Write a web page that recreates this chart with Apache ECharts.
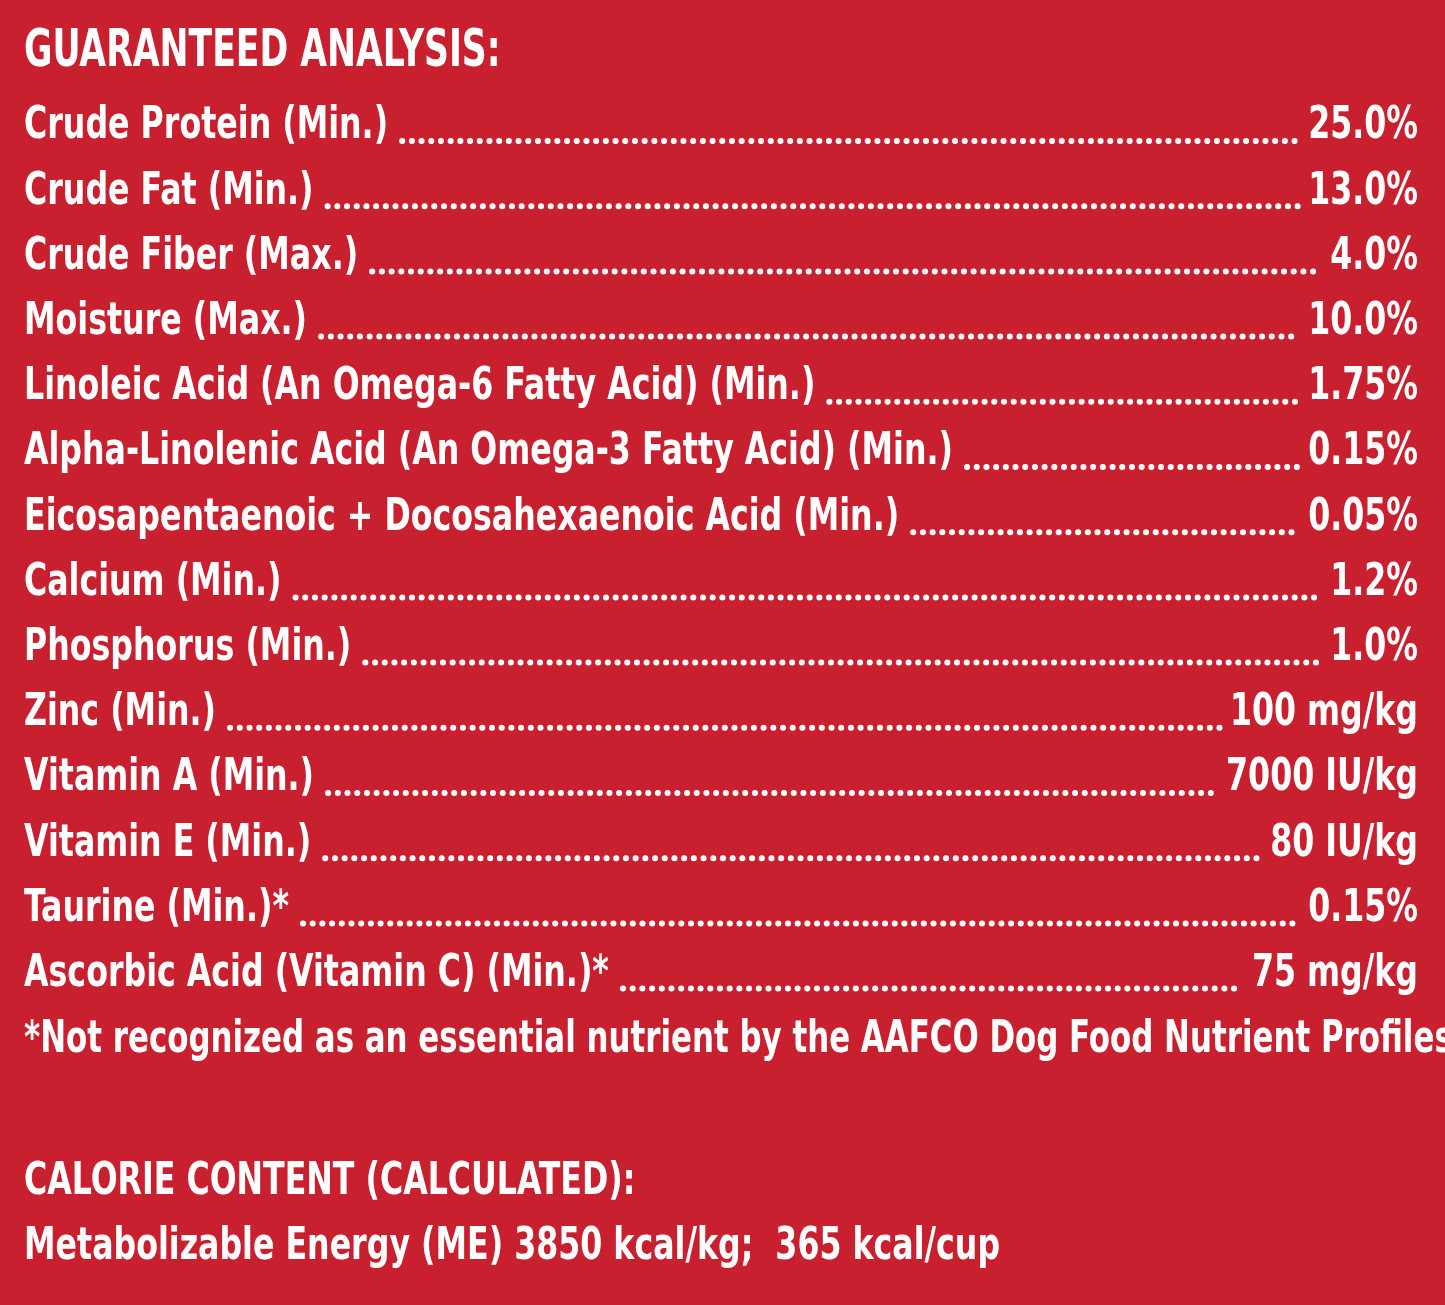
<!DOCTYPE html>
<html><head><meta charset="utf-8">
<script src="https://cdn.jsdelivr.net/npm/echarts@6/dist/echarts.min.js"></script>
<style>html,body{margin:0;padding:0;background:#c8202f}#c{width:1445px;height:1305px}</style>
</head><body><div id="c"></div>
<script>
const title = "GUARANTEED ANALYSIS:";
const nutrients = ["Crude Protein (Min.)","Crude Fat (Min.)","Crude Fiber (Max.)","Moisture (Max.)","Linoleic Acid (An Omega-6 Fatty Acid) (Min.)","Alpha-Linolenic Acid (An Omega-3 Fatty Acid) (Min.)","Eicosapentaenoic + Docosahexaenoic Acid (Min.)","Calcium (Min.)","Phosphorus (Min.)","Zinc (Min.)","Vitamin A (Min.)","Vitamin E (Min.)","Taurine (Min.)*","Ascorbic Acid (Vitamin C) (Min.)*"];
const amounts = ["25.0%","13.0%","4.0%","10.0%","1.75%","0.15%","0.05%","1.2%","1.0%","100 mg/kg","7000 IU/kg","80 IU/kg","0.15%","75 mg/kg"];
const footnote = "*Not recognized as an essential nutrient by the AAFCO Dog Food Nutrient Profiles.";
const calorieTitle = "CALORIE CONTENT (CALCULATED):";
const calorieLine = "Metabolizable Energy (ME) 3850 kcal/kg;  365 kcal/cup";

const FAM = '"DejaVu Sans Condensed","Liberation Sans Narrow",sans-serif';
const FONT = 'bold 44px ' + FAM;
const SX = 0.8;
const ctx = document.createElement('canvas').getContext('2d');
ctx.font = FONT;
const w = s => ctx.measureText(s).width * SX;

const left = 24, right = 1418, top0 = 127, step = 65.2;
const g = [];
function txt(s, x, y, align, font, sx) {
  g.push({type:'text', x, y, scaleX:sx||SX, originX:0, style:{text:s, font:font||FONT, fill:'#fff', align:align||'left', verticalAlign:'middle'}});
}
txt(title, left, 52, 'left', 'bold 52px ' + FAM, 0.74);
nutrients.forEach((n, i) => {
  const y = top0 + i*step;
  txt(n, left, y);
  txt(amounts[i], right, y, 'right');
  const x1 = left + w(n) + 14, x2 = right - w(amounts[i]) - 10;
  g.push({type:'line', shape:{x1, y1:y+14, x2, y2:y+14}, style:{stroke:'#fff', lineWidth:6, lineDash:[0.1,9.6], lineCap:'round'}});
});
txt(footnote, left, 1041, 'left', FONT, 0.78);
txt(calorieTitle, left, 1183);
txt(calorieLine, left, 1248);

const chart = echarts.init(document.getElementById('c'));
chart.setOption({backgroundColor:'#c8202f', graphic:g});
</script></body></html>
